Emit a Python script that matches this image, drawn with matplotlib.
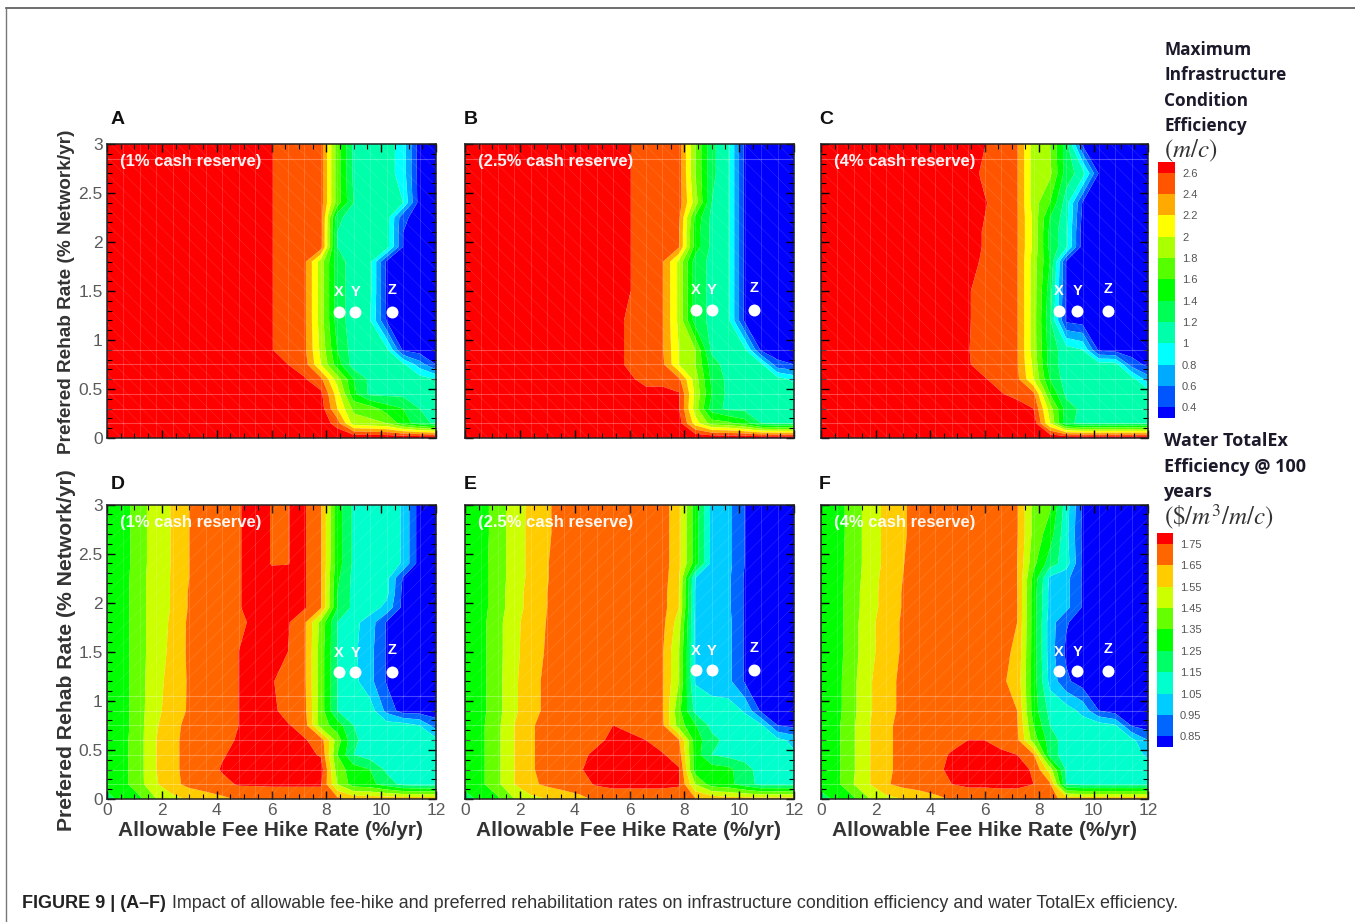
import numpy as np
import matplotlib
matplotlib.use("Agg")
import matplotlib.pyplot as plt
from matplotlib.colors import hsv_to_rgb
from matplotlib.lines import Line2D
from matplotlib.patches import Rectangle
from matplotlib.ticker import MultipleLocator

W, H = 1355, 922
plt.rcParams['font.family'] = ['Liberation Sans', 'DejaVu Sans']
plt.rcParams['hatch.linewidth'] = 0.5

# grid of the simulations
fee_rate = [0, 0.6, 1.2, 1.8, 2.4, 3, 3.6, 4.2, 4.8, 5.4, 6, 6.6, 7.2, 7.8, 8.4, 9, 9.6, 10.2, 10.8, 11.4, 12]
rehab_rate = [0, 0.15, 0.3, 0.45, 0.6, 0.75, 0.9, 1.2, 1.5, 1.8, 1.95, 2.1, 2.25, 2.4, 2.7, 3]

# rows go from rehab rate 0 up to 3
cond_1 = [
    [2.8, 2.8, 2.8, 2.8, 2.8, 2.8, 2.8, 2.8, 2.8, 2.8, 2.8, 2.8, 2.8, 2.8, 2.8, 2.8, 2.8, 2.8, 2.8, 2.8, 2.8],
    [2.8, 2.8, 2.8, 2.8, 2.8, 2.8, 2.8, 2.8, 2.8, 2.8, 2.8, 2.8, 2.8, 2.75, 2.5, 1.9, 1.85, 1.8, 1.5, 1.3, 1.15],
    [2.8, 2.8, 2.8, 2.8, 2.8, 2.8, 2.8, 2.8, 2.8, 2.8, 2.8, 2.8, 2.8, 2.7, 2.2, 1.75, 1.7, 1.5, 1.4, 1.2, 1.15],
    [2.8, 2.8, 2.8, 2.8, 2.8, 2.8, 2.8, 2.8, 2.8, 2.8, 2.8, 2.8, 2.8, 2.65, 2.1, 1.45, 1.15, 1.15, 1.15, 1.1, 1.1],
    [2.8, 2.8, 2.8, 2.8, 2.8, 2.8, 2.8, 2.8, 2.8, 2.8, 2.8, 2.7, 2.62, 2.45, 1.9, 1.4, 1.15, 1.1, 1.1, 1.1, 1.0],
    [2.8, 2.8, 2.8, 2.8, 2.8, 2.8, 2.8, 2.8, 2.8, 2.8, 2.7, 2.6, 2.5, 2.0, 1.5, 1.1, 1.1, 1.1, 1.05, 0.7, 0.4],
    [2.8, 2.8, 2.8, 2.8, 2.8, 2.8, 2.8, 2.8, 2.8, 2.7, 2.61, 2.5, 2.45, 1.95, 1.4, 1.1, 1.1, 1.05, 0.36, 0.3, 0.35],
    [2.8, 2.8, 2.8, 2.8, 2.8, 2.8, 2.8, 2.8, 2.8, 2.7, 2.61, 2.5, 2.45, 1.9, 1.3, 1.1, 1.0, 0.38, 0.35, 0.3, 0.3],
    [2.8, 2.8, 2.8, 2.8, 2.8, 2.8, 2.8, 2.8, 2.8, 2.7, 2.61, 2.5, 2.45, 1.9, 1.3, 1.1, 1.05, 0.36, 0.3, 0.3, 0.3],
    [2.8, 2.8, 2.8, 2.8, 2.8, 2.8, 2.8, 2.8, 2.8, 2.7, 2.61, 2.5, 2.45, 1.9, 1.3, 1.1, 1.05, 0.36, 0.3, 0.3, 0.3],
    [2.8, 2.8, 2.8, 2.8, 2.8, 2.8, 2.8, 2.8, 2.8, 2.7, 2.61, 2.5, 2.5, 2.5, 1.2, 1.1, 1.1, 1.1, 0.4, 0.3, 0.3],
    [2.8, 2.8, 2.8, 2.8, 2.8, 2.8, 2.8, 2.8, 2.8, 2.7, 2.61, 2.5, 2.5, 2.5, 1.2, 1.1, 1.1, 1.1, 0.4, 0.3, 0.3],
    [2.8, 2.8, 2.8, 2.8, 2.8, 2.8, 2.8, 2.8, 2.8, 2.7, 2.61, 2.5, 2.5, 2.5, 1.25, 1.1, 1.1, 1.1, 0.45, 0.3, 0.3],
    [2.8, 2.8, 2.8, 2.8, 2.8, 2.8, 2.8, 2.8, 2.8, 2.7, 2.61, 2.5, 2.5, 2.5, 1.7, 1.2, 1.1, 1.1, 1.0, 0.3, 0.3],
    [2.8, 2.8, 2.8, 2.8, 2.8, 2.8, 2.8, 2.8, 2.8, 2.7, 2.61, 2.5, 2.5, 2.5, 1.7, 1.15, 1.1, 1.1, 0.9, 0.3, 0.3],
    [2.8, 2.8, 2.8, 2.8, 2.8, 2.8, 2.8, 2.8, 2.8, 2.7, 2.61, 2.5, 2.5, 2.5, 1.7, 1.15, 1.1, 1.1, 0.9, 0.3, 0.3],
]
cond_2 = [
    [2.8, 2.8, 2.8, 2.8, 2.8, 2.8, 2.8, 2.8, 2.8, 2.8, 2.8, 2.8, 2.8, 2.8, 2.8, 2.8, 2.8, 2.8, 2.8, 2.8, 2.8],
    [2.8, 2.8, 2.8, 2.8, 2.8, 2.8, 2.8, 2.8, 2.8, 2.8, 2.8, 2.8, 2.8, 2.7, 2.1, 1.7, 1.65, 1.5, 1.2, 1.15, 1.15],
    [2.8, 2.8, 2.8, 2.8, 2.8, 2.8, 2.8, 2.8, 2.8, 2.8, 2.8, 2.8, 2.8, 2.62, 1.9, 1.3, 1.15, 1.15, 1.15, 1.15, 1.15],
    [2.8, 2.8, 2.8, 2.8, 2.8, 2.8, 2.8, 2.8, 2.8, 2.8, 2.75, 2.7, 2.7, 2.62, 1.95, 1.4, 1.15, 1.15, 1.15, 1.15, 1.15],
    [2.8, 2.8, 2.8, 2.8, 2.8, 2.8, 2.8, 2.8, 2.8, 2.8, 2.65, 2.5, 2.5, 2.45, 1.9, 1.35, 1.15, 1.15, 1.1, 1.1, 0.95],
    [2.8, 2.8, 2.8, 2.8, 2.8, 2.8, 2.8, 2.8, 2.8, 2.7, 2.55, 2.5, 2.45, 2.0, 1.8, 1.3, 1.1, 1.1, 1.05, 0.45, 0.4],
    [2.8, 2.8, 2.8, 2.8, 2.8, 2.8, 2.8, 2.8, 2.8, 2.7, 2.55, 2.5, 2.42, 2.0, 1.8, 1.15, 1.1, 1.05, 0.36, 0.3, 0.3],
    [2.8, 2.8, 2.8, 2.8, 2.8, 2.8, 2.8, 2.8, 2.8, 2.7, 2.55, 2.5, 2.42, 1.95, 1.3, 1.15, 1.05, 0.36, 0.3, 0.3, 0.3],
    [2.8, 2.8, 2.8, 2.8, 2.8, 2.8, 2.8, 2.8, 2.8, 2.7, 2.61, 2.5, 2.42, 1.95, 1.3, 1.15, 1.05, 0.36, 0.3, 0.3, 0.3],
    [2.8, 2.8, 2.8, 2.8, 2.8, 2.8, 2.8, 2.8, 2.8, 2.7, 2.61, 2.5, 2.42, 1.95, 1.3, 1.15, 1.05, 0.36, 0.3, 0.3, 0.3],
    [2.8, 2.8, 2.8, 2.8, 2.8, 2.8, 2.8, 2.8, 2.8, 2.7, 2.61, 2.5, 2.5, 2.42, 1.5, 1.15, 1.05, 0.36, 0.3, 0.3, 0.3],
    [2.8, 2.8, 2.8, 2.8, 2.8, 2.8, 2.8, 2.8, 2.8, 2.7, 2.61, 2.5, 2.5, 2.42, 1.5, 1.15, 1.05, 0.36, 0.3, 0.3, 0.3],
    [2.8, 2.8, 2.8, 2.8, 2.8, 2.8, 2.8, 2.8, 2.8, 2.7, 2.61, 2.5, 2.5, 2.45, 1.55, 1.15, 1.05, 0.36, 0.3, 0.3, 0.3],
    [2.8, 2.8, 2.8, 2.8, 2.8, 2.8, 2.8, 2.8, 2.8, 2.7, 2.61, 2.5, 2.5, 2.5, 1.9, 1.2, 1.05, 0.36, 0.3, 0.3, 0.3],
    [2.8, 2.8, 2.8, 2.8, 2.8, 2.8, 2.8, 2.8, 2.8, 2.7, 2.61, 2.5, 2.5, 2.5, 1.8, 1.25, 1.05, 0.36, 0.3, 0.3, 0.3],
    [2.8, 2.8, 2.8, 2.8, 2.8, 2.8, 2.8, 2.8, 2.8, 2.7, 2.61, 2.5, 2.5, 2.5, 1.8, 1.25, 1.05, 0.36, 0.3, 0.3, 0.3],
]
cond_4 = [
    [2.8, 2.8, 2.8, 2.8, 2.8, 2.8, 2.8, 2.8, 2.8, 2.8, 2.8, 2.8, 2.8, 2.8, 2.8, 2.8, 2.8, 2.8, 2.8, 2.8, 2.8],
    [2.8, 2.8, 2.8, 2.8, 2.8, 2.8, 2.8, 2.8, 2.8, 2.8, 2.8, 2.8, 2.8, 2.72, 2.0, 1.25, 1.15, 1.15, 1.15, 1.15, 1.15],
    [2.8, 2.8, 2.8, 2.8, 2.8, 2.8, 2.8, 2.8, 2.8, 2.8, 2.8, 2.8, 2.75, 2.6, 1.9, 1.3, 1.15, 1.15, 1.15, 1.15, 1.15],
    [2.8, 2.8, 2.8, 2.8, 2.8, 2.8, 2.8, 2.8, 2.8, 2.8, 2.75, 2.62, 2.5, 2.45, 1.6, 1.15, 1.15, 1.15, 1.15, 1.15, 1.15],
    [2.8, 2.8, 2.8, 2.8, 2.8, 2.8, 2.8, 2.8, 2.8, 2.7, 2.62, 2.5, 2.45, 2.0, 1.4, 1.1, 1.1, 1.1, 1.1, 1.1, 0.7],
    [2.8, 2.8, 2.8, 2.8, 2.8, 2.8, 2.8, 2.8, 2.8, 2.62, 2.5, 2.5, 2.42, 1.95, 1.3, 1.1, 1.1, 1.1, 1.1, 0.5, 0.35],
    [2.8, 2.8, 2.8, 2.8, 2.8, 2.8, 2.8, 2.8, 2.8, 2.61, 2.5, 2.5, 2.42, 1.9, 1.3, 1.1, 1.0, 0.35, 0.3, 0.3, 0.3],
    [2.8, 2.8, 2.8, 2.8, 2.8, 2.8, 2.8, 2.8, 2.8, 2.62, 2.5, 2.5, 2.42, 1.9, 1.25, 0.35, 0.3, 0.3, 0.3, 0.3, 0.3],
    [2.8, 2.8, 2.8, 2.8, 2.8, 2.8, 2.8, 2.8, 2.8, 2.62, 2.5, 2.5, 2.42, 1.9, 1.3, 0.38, 0.3, 0.3, 0.3, 0.3, 0.3],
    [2.8, 2.8, 2.8, 2.8, 2.8, 2.8, 2.8, 2.8, 2.8, 2.7, 2.55, 2.5, 2.42, 1.9, 1.4, 0.38, 0.3, 0.3, 0.3, 0.3, 0.3],
    [2.8, 2.8, 2.8, 2.8, 2.8, 2.8, 2.8, 2.8, 2.8, 2.7, 2.58, 2.5, 2.42, 1.95, 1.35, 1.05, 0.3, 0.3, 0.3, 0.3, 0.3],
    [2.8, 2.8, 2.8, 2.8, 2.8, 2.8, 2.8, 2.8, 2.8, 2.7, 2.58, 2.5, 2.42, 1.95, 1.35, 1.05, 0.3, 0.3, 0.3, 0.3, 0.3],
    [2.8, 2.8, 2.8, 2.8, 2.8, 2.8, 2.8, 2.8, 2.8, 2.7, 2.6, 2.5, 2.42, 1.95, 1.4, 1.08, 0.34, 0.3, 0.3, 0.3, 0.3],
    [2.8, 2.8, 2.8, 2.8, 2.8, 2.8, 2.8, 2.8, 2.8, 2.7, 2.62, 2.5, 2.42, 1.9, 1.6, 1.1, 0.38, 0.3, 0.3, 0.3, 0.3],
    [2.8, 2.8, 2.8, 2.8, 2.8, 2.8, 2.8, 2.8, 2.8, 2.7, 2.55, 2.5, 2.42, 1.9, 1.85, 1.3, 1.1, 0.38, 0.3, 0.3, 0.3],
    [2.8, 2.8, 2.8, 2.8, 2.8, 2.8, 2.8, 2.8, 2.8, 2.7, 2.61, 2.5, 2.42, 1.9, 1.8, 1.3, 0.36, 0.3, 0.3, 0.3, 0.3],
]
totex_1 = [
    [1.2, 1.3, 1.33, 1.45, 1.52, 1.56, 1.6, 1.63, 1.66, 1.68, 1.7, 1.7, 1.7, 1.7, 1.68, 1.62, 1.62, 1.62, 1.62, 1.62, 1.62],
    [1.3, 1.32, 1.42, 1.54, 1.62, 1.68, 1.7, 1.72, 1.76, 1.76, 1.76, 1.76, 1.76, 1.76, 1.45, 1.3, 1.28, 1.2, 1.12, 1.1, 1.1],
    [1.3, 1.32, 1.42, 1.55, 1.63, 1.68, 1.7, 1.76, 1.8, 1.8, 1.8, 1.8, 1.8, 1.8, 1.4, 1.3, 1.25, 1.13, 1.1, 1.1, 1.1],
    [1.3, 1.32, 1.42, 1.55, 1.63, 1.68, 1.7, 1.74, 1.78, 1.8, 1.8, 1.8, 1.78, 1.74, 1.35, 1.15, 1.1, 1.1, 1.1, 1.1, 1.1],
    [1.3, 1.32, 1.42, 1.55, 1.63, 1.68, 1.7, 1.72, 1.76, 1.8, 1.8, 1.8, 1.76, 1.7, 1.4, 1.17, 1.1, 1.1, 1.1, 1.1, 1.08],
    [1.3, 1.31, 1.42, 1.54, 1.62, 1.68, 1.7, 1.72, 1.75, 1.8, 1.8, 1.76, 1.7, 1.4, 1.3, 1.15, 1.1, 1.1, 1.1, 1.05, 0.9],
    [1.3, 1.31, 1.42, 1.52, 1.61, 1.66, 1.7, 1.72, 1.75, 1.78, 1.78, 1.7, 1.68, 1.4, 1.15, 1.1, 1.1, 0.92, 0.8, 0.8, 0.8],
    [1.3, 1.31, 1.42, 1.51, 1.6, 1.66, 1.7, 1.72, 1.75, 1.78, 1.76, 1.7, 1.67, 1.4, 1.15, 1.08, 0.98, 0.84, 0.8, 0.8, 0.8],
    [1.3, 1.31, 1.42, 1.5, 1.58, 1.67, 1.7, 1.72, 1.75, 1.78, 1.78, 1.75, 1.67, 1.4, 1.15, 1.07, 0.98, 0.84, 0.8, 0.8, 0.8],
    [1.3, 1.31, 1.42, 1.5, 1.57, 1.67, 1.7, 1.72, 1.72, 1.78, 1.78, 1.76, 1.67, 1.42, 1.15, 1.08, 1.0, 0.84, 0.8, 0.8, 0.8],
    [1.3, 1.31, 1.42, 1.5, 1.56, 1.66, 1.7, 1.72, 1.74, 1.8, 1.8, 1.79, 1.76, 1.66, 1.25, 1.12, 1.1, 1.02, 0.82, 0.8, 0.8],
    [1.3, 1.31, 1.42, 1.5, 1.56, 1.66, 1.7, 1.72, 1.74, 1.8, 1.8, 1.8, 1.76, 1.66, 1.25, 1.12, 1.1, 1.08, 0.82, 0.8, 0.8],
    [1.3, 1.31, 1.42, 1.5, 1.56, 1.65, 1.7, 1.72, 1.74, 1.8, 1.78, 1.76, 1.76, 1.66, 1.27, 1.12, 1.1, 1.08, 0.84, 0.8, 0.8],
    [1.3, 1.3, 1.42, 1.49, 1.56, 1.65, 1.7, 1.72, 1.74, 1.8, 1.745, 1.749, 1.76, 1.66, 1.3, 1.13, 1.1, 1.1, 1.04, 0.8, 0.8],
    [1.3, 1.3, 1.42, 1.49, 1.56, 1.65, 1.7, 1.72, 1.74, 1.8, 1.745, 1.749, 1.76, 1.66, 1.3, 1.13, 1.1, 1.1, 1.04, 0.8, 0.8],
    [1.3, 1.3, 1.42, 1.49, 1.56, 1.65, 1.7, 1.72, 1.74, 1.8, 1.745, 1.749, 1.76, 1.66, 1.3, 1.13, 1.1, 1.1, 1.04, 0.8, 0.8],
]
totex_2 = [
    [1.2, 1.28, 1.33, 1.45, 1.52, 1.55, 1.58, 1.62, 1.67, 1.7, 1.7, 1.7, 1.7, 1.7, 1.66, 1.62, 1.6, 1.6, 1.6, 1.6, 1.6],
    [1.3, 1.33, 1.43, 1.55, 1.63, 1.67, 1.7, 1.72, 1.76, 1.77, 1.77, 1.77, 1.77, 1.76, 1.45, 1.3, 1.28, 1.2, 1.12, 1.12, 1.12],
    [1.3, 1.33, 1.43, 1.55, 1.64, 1.68, 1.7, 1.74, 1.8, 1.8, 1.8, 1.8, 1.8, 1.76, 1.3, 1.3, 1.28, 1.18, 1.12, 1.12, 1.12],
    [1.3, 1.33, 1.43, 1.55, 1.64, 1.68, 1.7, 1.72, 1.78, 1.8, 1.8, 1.8, 1.76, 1.7, 1.3, 1.15, 1.12, 1.12, 1.12, 1.1, 1.07],
    [1.3, 1.33, 1.43, 1.55, 1.64, 1.68, 1.7, 1.7, 1.72, 1.78, 1.78, 1.75, 1.7, 1.66, 1.3, 1.18, 1.12, 1.1, 1.1, 1.08, 1.02],
    [1.3, 1.33, 1.43, 1.55, 1.64, 1.68, 1.7, 1.7, 1.72, 1.75, 1.72, 1.7, 1.67, 1.4, 1.26, 1.12, 1.1, 1.1, 1.07, 0.85, 0.82],
    [1.3, 1.32, 1.42, 1.53, 1.62, 1.67, 1.7, 1.7, 1.7, 1.7, 1.7, 1.7, 1.66, 1.38, 1.12, 1.1, 1.1, 1.04, 0.83, 0.8, 0.8],
    [1.3, 1.32, 1.42, 1.53, 1.62, 1.67, 1.7, 1.7, 1.7, 1.7, 1.7, 1.7, 1.66, 1.45, 1.04, 1.0, 0.98, 0.84, 0.8, 0.8, 0.8],
    [1.3, 1.32, 1.42, 1.52, 1.61, 1.66, 1.7, 1.7, 1.7, 1.7, 1.7, 1.7, 1.66, 1.45, 1.04, 1.0, 0.98, 0.84, 0.8, 0.8, 0.8],
    [1.3, 1.32, 1.42, 1.52, 1.6, 1.655, 1.7, 1.7, 1.7, 1.7, 1.7, 1.7, 1.68, 1.5, 1.03, 1.0, 0.98, 0.84, 0.8, 0.8, 0.8],
    [1.3, 1.31, 1.41, 1.5, 1.59, 1.65, 1.7, 1.7, 1.7, 1.7, 1.7, 1.7, 1.69, 1.55, 1.04, 0.98, 0.97, 0.84, 0.8, 0.8, 0.8],
    [1.3, 1.31, 1.41, 1.5, 1.59, 1.65, 1.7, 1.7, 1.7, 1.7, 1.7, 1.7, 1.69, 1.55, 1.04, 0.98, 0.97, 0.84, 0.8, 0.8, 0.8],
    [1.3, 1.31, 1.41, 1.49, 1.58, 1.645, 1.7, 1.7, 1.7, 1.7, 1.7, 1.7, 1.7, 1.56, 1.05, 1.0, 0.97, 0.84, 0.8, 0.8, 0.8],
    [1.3, 1.31, 1.41, 1.49, 1.58, 1.645, 1.7, 1.7, 1.7, 1.7, 1.7, 1.7, 1.7, 1.58, 1.3, 1.02, 0.98, 0.85, 0.8, 0.8, 0.8],
    [1.3, 1.3, 1.41, 1.49, 1.58, 1.64, 1.68, 1.7, 1.7, 1.7, 1.7, 1.7, 1.7, 1.58, 1.3, 1.02, 0.98, 0.85, 0.8, 0.8, 0.8],
    [1.3, 1.3, 1.41, 1.49, 1.58, 1.64, 1.68, 1.7, 1.7, 1.7, 1.7, 1.7, 1.7, 1.58, 1.3, 1.02, 0.98, 0.85, 0.8, 0.8, 0.8],
]
totex_4 = [
    [1.2, 1.28, 1.33, 1.45, 1.52, 1.55, 1.58, 1.62, 1.66, 1.68, 1.68, 1.7, 1.7, 1.7, 1.68, 1.62, 1.62, 1.62, 1.62, 1.62, 1.62],
    [1.3, 1.33, 1.45, 1.55, 1.64, 1.68, 1.7, 1.72, 1.75, 1.77, 1.77, 1.77, 1.77, 1.75, 1.67, 1.15, 1.12, 1.12, 1.12, 1.12, 1.12],
    [1.3, 1.33, 1.44, 1.55, 1.63, 1.68, 1.7, 1.72, 1.78, 1.8, 1.8, 1.8, 1.78, 1.74, 1.5, 1.13, 1.1, 1.1, 1.1, 1.1, 1.1],
    [1.3, 1.33, 1.44, 1.55, 1.63, 1.68, 1.7, 1.72, 1.76, 1.8, 1.8, 1.78, 1.75, 1.66, 1.2, 1.1, 1.1, 1.1, 1.1, 1.1, 1.03],
    [1.3, 1.33, 1.44, 1.55, 1.63, 1.68, 1.7, 1.7, 1.72, 1.75, 1.75, 1.7, 1.67, 1.4, 1.2, 1.1, 1.1, 1.1, 1.1, 1.08, 0.95],
    [1.3, 1.33, 1.44, 1.55, 1.63, 1.68, 1.7, 1.7, 1.7, 1.7, 1.7, 1.7, 1.66, 1.35, 1.15, 1.1, 1.1, 1.1, 1.06, 0.84, 0.8],
    [1.3, 1.32, 1.43, 1.54, 1.62, 1.67, 1.7, 1.7, 1.7, 1.7, 1.7, 1.7, 1.65, 1.3, 1.12, 1.1, 1.02, 0.85, 0.8, 0.8, 0.8],
    [1.3, 1.32, 1.43, 1.54, 1.62, 1.67, 1.7, 1.7, 1.7, 1.7, 1.7, 1.67, 1.61, 1.3, 1.02, 0.87, 0.8, 0.8, 0.8, 0.8, 0.8],
    [1.3, 1.31, 1.42, 1.52, 1.61, 1.66, 1.7, 1.7, 1.7, 1.7, 1.7, 1.68, 1.63, 1.3, 1.0, 0.83, 0.8, 0.8, 0.8, 0.8, 0.8],
    [1.3, 1.31, 1.42, 1.52, 1.61, 1.66, 1.7, 1.7, 1.7, 1.7, 1.7, 1.7, 1.65, 1.3, 1.0, 0.86, 0.8, 0.8, 0.8, 0.8, 0.8],
    [1.3, 1.31, 1.42, 1.5, 1.6, 1.655, 1.7, 1.7, 1.7, 1.7, 1.7, 1.7, 1.655, 1.3, 1.02, 0.98, 0.84, 0.8, 0.8, 0.8, 0.8],
    [1.3, 1.31, 1.42, 1.5, 1.6, 1.655, 1.7, 1.7, 1.7, 1.7, 1.7, 1.7, 1.655, 1.3, 1.02, 0.98, 0.84, 0.8, 0.8, 0.8, 0.8],
    [1.3, 1.31, 1.41, 1.5, 1.59, 1.65, 1.7, 1.7, 1.7, 1.7, 1.7, 1.7, 1.65, 1.32, 1.03, 0.98, 0.84, 0.8, 0.8, 0.8, 0.8],
    [1.3, 1.31, 1.41, 1.49, 1.58, 1.645, 1.7, 1.7, 1.7, 1.7, 1.7, 1.7, 1.65, 1.38, 1.2, 1.1, 0.84, 0.8, 0.8, 0.8, 0.8],
    [1.3, 1.3, 1.41, 1.49, 1.58, 1.64, 1.68, 1.7, 1.7, 1.7, 1.7, 1.7, 1.66, 1.42, 1.3, 1.08, 0.83, 0.8, 0.8, 0.8, 0.8],
    [1.3, 1.3, 1.41, 1.49, 1.58, 1.64, 1.68, 1.7, 1.7, 1.7, 1.7, 1.7, 1.66, 1.42, 1.37, 1.1, 0.84, 0.8, 0.8, 0.8, 0.8],
]

panel_letters = ['A', 'B', 'C', 'D', 'E', 'F']
reserve_labels = ['(1% cash reserve)', '(2.5% cash reserve)', '(4% cash reserve)'] * 2
xyz_fee = [[8.47, 9.05, 10.4], [8.43, 9.01, 10.54], [8.72, 9.41, 10.55]] * 2
xyz_rehab = [1.29, 1.31, 1.3, 1.29, 1.31, 1.3]

cond_ticks = [0.4, 0.6, 0.8, 1, 1.2, 1.4, 1.6, 1.8, 2, 2.2, 2.4, 2.6]
totex_ticks = [0.85, 0.95, 1.05, 1.15, 1.25, 1.35, 1.45, 1.55, 1.65, 1.75]

y_tick_labels = ['0', '0.5', '1', '1.5', '2', '2.5', '3']
x_tick_labels = ['0', '2', '4', '6', '8', '10', '12']


def rainbow(n):
    hues = np.linspace(0, 2 / 3, n)
    hsv = np.column_stack([hues, np.ones(n), np.ones(n)])
    return hsv_to_rgb(hsv)[::-1]


def px_axes(fig, left, top, right, bottom):
    return fig.add_axes([left / W, 1 - bottom / H, (right - left) / W, (bottom - top) / H])


def fig_text(fig, x, y, s, **kw):
    return fig.text(x / W, 1 - y / H, s, **kw)


def draw_panel(ax, z, ticks, colors, i):
    levels = [0] + list(ticks) + [9]
    ax.contourf(fee_rate, rehab_rate, np.array(z), levels=levels, colors=colors, antialiased=True)
    ax.set_xlim(0, 12)
    ax.set_ylim(0, 3)

    # faint mesh lines and hatching showing through the plot
    for x in fee_rate[1:-1]:
        ax.axvline(x, color='white', lw=0.7, alpha=0.16)
    rows = [0.15, 0.3, 0.45, 0.6, 0.75, 0.9] + ([2.85] if i < 3 else [1.05])
    for y in rows:
        ax.axhline(y, color='white', lw=0.8, alpha=0.28)
    ax.add_patch(Rectangle((0, 0), 12, 3, fill=False, lw=0, ec=(1, 1, 1, 0.13),
                           hatch='\\\\' if i < 3 else '//'))

    ax.xaxis.set_major_locator(MultipleLocator(2))
    ax.xaxis.set_minor_locator(MultipleLocator(0.5))
    ax.yaxis.set_major_locator(MultipleLocator(0.5))
    ax.yaxis.set_minor_locator(MultipleLocator(0.1))
    ax.tick_params(which='both', direction='in', top=True, right=True, color='black',
                   labelcolor='#5a5a5a', labelsize=12.5, pad=3)
    ax.tick_params(which='major', length=6, width=1)
    ax.tick_params(which='minor', length=3.5, width=0.8)
    ax.set_xticks(np.arange(0, 13, 2), labels=x_tick_labels if i >= 3 else [''] * 7)
    ax.set_yticks(np.arange(0, 3.5, 0.5), labels=y_tick_labels if i % 3 == 0 else [''] * 7)
    for sp in ax.spines.values():
        sp.set_linewidth(1.1)
        sp.set_color('#222222')

    ax.text(0.04, 0.94, reserve_labels[i], transform=ax.transAxes, color='white',
            fontsize=12, fontweight='bold', va='center', alpha=0.95)
    ax.plot(xyz_fee[i], [xyz_rehab[i]] * 3, 'o', color='white', ms=8.6, mew=0, clip_on=False)
    for x, name in zip(xyz_fee[i], 'XYZ'):
        ax.text(x, xyz_rehab[i] + (0.2 if name != 'Z' else 0.225), name, color='white',
                fontsize=10.5, fontweight='bold', ha='center', va='center')


def draw_colorbar(fig, box, ticks, colors, step):
    cax = px_axes(fig, *box)
    edges = [ticks[0] - step / 2] + list(ticks) + [ticks[-1] + step / 2]
    for k, c in enumerate(colors):
        cax.axhspan(edges[k], edges[k + 1], color=c, lw=0)
    cax.set_ylim(edges[0], edges[-1])
    cax.set_xticks([])
    cax.yaxis.tick_right()
    cax.set_yticks(ticks, labels=[str(t) for t in ticks])
    cax.tick_params(axis='y', length=0, pad=5, labelsize=8, labelcolor='#555555')
    for sp in cax.spines.values():
        sp.set_visible(False)


fig = plt.figure(figsize=(W / 100, H / 100), dpi=100)

# outer border of the figure box
fig.add_artist(Line2D([6 / W, 6 / W], [0, 1 - 9 / H], color='#777777', lw=1))
fig.add_artist(Line2D([6 / W, 1], [1 - 8.5 / H, 1 - 8.5 / H], color='#555555', lw=1.2))

cond_colors = rainbow(13)
totex_colors = rainbow(11)

columns = [(107, 436), (465, 794), (821, 1148)]
rows_px = [(144, 438), (504.5, 799)]
all_z = [cond_1, cond_2, cond_4, totex_1, totex_2, totex_4]
label_x = [111, 464, 819]

for i, z in enumerate(all_z):
    l, r = columns[i % 3]
    t, b = rows_px[i // 3]
    ax = px_axes(fig, l, t, r, b)
    if i < 3:
        draw_panel(ax, z, cond_ticks, cond_colors, i)
    else:
        draw_panel(ax, z, totex_ticks, totex_colors, i)
    fig_text(fig, label_x[i % 3], t - 25 if i < 3 else t - 20, panel_letters[i], fontsize=14,
             fontweight='bold', color='#111111', va='center')

# axis titles
fig_text(fig, 67, 292, 'Prefered Rehab Rate (% Network/yr)', rotation=90, fontsize=13.7,
         fontweight='bold', color='#333333', ha='center', va='center')
fig_text(fig, 67, 650, 'Prefered Rehab Rate (% Network/yr)', rotation=90, fontsize=15.2,
         fontweight='bold', color='#333333', ha='center', va='center')
for cx in [271, 629, 985]:
    fig_text(fig, cx, 830, 'Allowable Fee Hike Rate (%/yr)', fontsize=15,
             fontweight='bold', color='#333333', ha='center', va='center')

# colour scales
for y, s in zip([50, 75, 101, 126], ['Maximum', 'Infrastructure', 'Condition', 'Efficiency']):
    fig_text(fig, 1164, y, s, fontsize=12.4, fontweight='bold', family='Open Sans',
             color='#1a1a2a', va='center')
fig_text(fig, 1164, 151, r'$(m/c)$', fontsize=18, math_fontfamily='stix', color='#333333', va='center')
draw_colorbar(fig, (1158, 162, 1175, 418), cond_ticks, cond_colors, 0.2)

for y, s in zip([441, 467, 492], ['Water TotalEx', 'Efficiency @ 100', 'years']):
    fig_text(fig, 1164, y, s, fontsize=13, fontweight='bold', family='Open Sans',
             color='#1a1a2a', va='center')
fig_text(fig, 1164, 517, r'$(\$/m^3/m/c)$', fontsize=18, math_fontfamily='stix', color='#333333', va='center')
draw_colorbar(fig, (1157, 533, 1173, 747), totex_ticks, totex_colors, 0.1)

# caption
fig_text(fig, 22, 903, 'FIGURE 9 | (A\u2013F)', fontsize=13, fontweight='bold', color='#222222', va='center')
fig_text(fig, 172, 903, 'Impact of allowable fee-hike and preferred rehabilitation rates on infrastructure '
         'condition efficiency and water TotalEx efficiency.', fontsize=12.87, color='#333333', va='center')

fig.savefig('out.png', dpi=100)
